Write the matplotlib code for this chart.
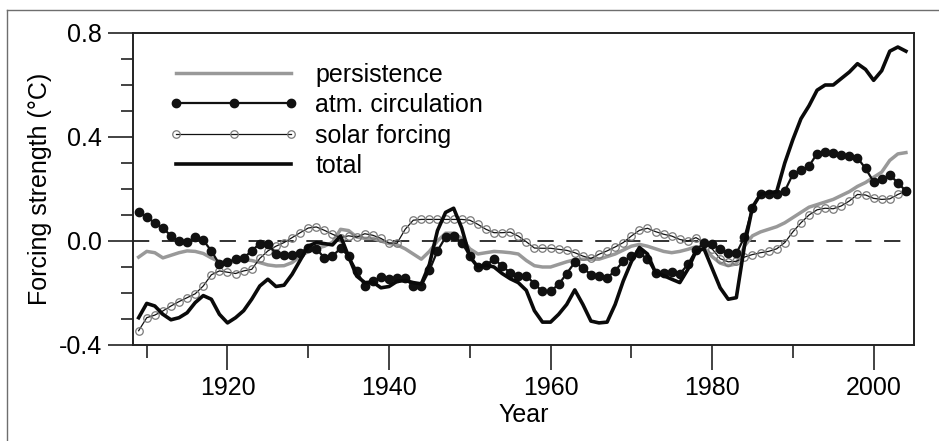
import matplotlib
matplotlib.use("Agg")
import matplotlib.pyplot as plt
from matplotlib.lines import Line2D
from matplotlib.ticker import MultipleLocator, FixedLocator, FuncFormatter
import numpy as np

plt.rcParams['font.family'] = ['Liberation Sans', 'DejaVu Sans']
plt.rcParams['axes.unicode_minus'] = False

years = list(range(1909, 2005))

persistence = [
    -0.062, -0.040, -0.045, -0.065, -0.055, -0.045, -0.038, -0.040, -0.048, -0.065,
    -0.080, -0.083, -0.078, -0.072, -0.075, -0.083, -0.092, -0.096, -0.095, -0.083,
    -0.060, -0.040, -0.028, -0.020, -0.005, 0.045, 0.040, 0.015, 0.010, 0.010,
    0.000, -0.010, -0.015, -0.030, -0.050, -0.070, -0.040, 0.000, 0.030, 0.030,
    0.010, -0.030, -0.050, -0.045, -0.040, -0.042, -0.045, -0.050, -0.075, -0.095,
    -0.100, -0.100, -0.090, -0.080, -0.072, -0.070, -0.070, -0.070, -0.060, -0.050,
    -0.035, -0.020, -0.013, -0.020, -0.030, -0.040, -0.045, -0.040, -0.032, -0.022,
    -0.025, -0.060, -0.085, -0.095, -0.088, -0.020, 0.020, 0.035, 0.045, 0.055,
    0.070, 0.090, 0.110, 0.130, 0.140, 0.150, 0.160, 0.175, 0.190, 0.210,
    0.225, 0.245, 0.265, 0.310, 0.335, 0.340,
]

atm_circulation = [
    0.110, 0.092, 0.070, 0.050, 0.020, 0.000, -0.005, 0.015, 0.003, -0.038,
    -0.090, -0.080, -0.070, -0.065, -0.038, -0.010, -0.010, -0.050, -0.055, -0.055,
    -0.045, -0.025, -0.030, -0.065, -0.058, -0.028, -0.058, -0.115, -0.173, -0.154,
    -0.138, -0.147, -0.141, -0.144, -0.173, -0.173, -0.113, -0.038, 0.015, 0.019,
    -0.006, -0.058, -0.100, -0.094, -0.069, -0.096, -0.122, -0.135, -0.133, -0.165,
    -0.194, -0.193, -0.167, -0.125, -0.082, -0.103, -0.130, -0.133, -0.142, -0.114,
    -0.078, -0.058, -0.045, -0.071, -0.122, -0.122, -0.120, -0.127, -0.090, -0.035,
    -0.008, -0.013, -0.032, -0.048, -0.048, 0.014, 0.128, 0.182, 0.182, 0.182,
    0.192, 0.257, 0.272, 0.288, 0.336, 0.344, 0.340, 0.331, 0.327, 0.320,
    0.279, 0.228, 0.237, 0.254, 0.224, 0.192,
]

solar_forcing = [
    -0.345, -0.295, -0.285, -0.269, -0.250, -0.233, -0.218, -0.203, -0.173, -0.130,
    -0.115, -0.120, -0.125, -0.115, -0.109, -0.067, -0.038, -0.020, -0.006, 0.013,
    0.032, 0.050, 0.054, 0.041, 0.026, 0.013, 0.020, 0.015, 0.028, 0.022,
    0.010, -0.008, -0.008, 0.045, 0.080, 0.083, 0.083, 0.083, 0.083, 0.083,
    0.083, 0.080, 0.064, 0.045, 0.032, 0.032, 0.034, 0.019, -0.003, -0.027,
    -0.028, -0.028, -0.032, -0.036, -0.045, -0.058, -0.067, -0.051, -0.038, -0.023,
    -0.006, 0.019, 0.041, 0.049, 0.036, 0.026, 0.019, 0.006, 0.000, 0.013,
    -0.005, -0.030, -0.068, -0.080, -0.078, -0.062, -0.052, -0.045, -0.040, -0.030,
    -0.006, 0.035, 0.070, 0.100, 0.120, 0.126, 0.124, 0.135, 0.154, 0.179,
    0.177, 0.164, 0.160, 0.162, 0.179, 0.192,
]

total = [
    -0.295, -0.240, -0.250, -0.282, -0.303, -0.295, -0.276, -0.237, -0.210, -0.224,
    -0.282, -0.315, -0.295, -0.268, -0.224, -0.173, -0.147, -0.175, -0.170, -0.128,
    -0.074, -0.020, -0.006, -0.010, -0.015, 0.019, -0.060, -0.135, -0.160, -0.158,
    -0.180, -0.175, -0.155, -0.152, -0.160, -0.165, -0.090, 0.040, 0.110, 0.126,
    0.050, -0.060, -0.100, -0.092, -0.100, -0.125, -0.145, -0.160, -0.190, -0.268,
    -0.312, -0.312, -0.282, -0.244, -0.188, -0.244, -0.308, -0.315, -0.312, -0.244,
    -0.154, -0.080, -0.025, -0.050, -0.122, -0.133, -0.147, -0.160, -0.109, -0.040,
    -0.030, -0.105, -0.180, -0.224, -0.218, -0.020, 0.130, 0.180, 0.185, 0.190,
    0.300, 0.390, 0.470, 0.520, 0.580, 0.600, 0.600, 0.625, 0.650, 0.682,
    0.660, 0.618, 0.655, 0.730, 0.746, 0.730,
]

labels = ["persistence", "atm. circulation", "solar forcing", "total"]
y_ticks = [-0.4, 0.0, 0.4, 0.8]
x_ticks = [1920, 1940, 1960, 1980, 2000]

W, H = 939, 441
fig = plt.figure(figsize=(W / 100, H / 100), dpi=100)
ax = fig.add_axes([133 / W, 1 - 345 / H, (914 - 133) / W, (345 - 33) / H])

ax.axhline(0, color='#222222', lw=1.3, dashes=(9, 7), zorder=1)

l1, = ax.plot(years, persistence, color='#999999', lw=2.5, zorder=2)
l3, = ax.plot(years, solar_forcing, color='#111111', lw=0.9, marker='o', ms=5.4,
              mfc='none', mec='#7a7a7a', mew=0.9, zorder=3)
l2, = ax.plot(years, atm_circulation, color='#111111', lw=1.6, marker='o', ms=6.0,
              mfc='#111111', mec='#111111', zorder=4)
l4, = ax.plot(years, total, color='#0a0a0a', lw=2.6, zorder=5)

ax.set_xlim(1908.3, 2005.0)
ax.set_ylim(-0.4, 0.8)

ax.yaxis.set_major_locator(FixedLocator(y_ticks))
ax.yaxis.set_minor_locator(MultipleLocator(0.1))
ax.yaxis.set_major_formatter(FuncFormatter(lambda v, p: f"{v:.1f}"))
ax.xaxis.set_major_locator(FixedLocator(x_ticks))
ax.xaxis.set_minor_locator(MultipleLocator(10))

ax.tick_params(which='major', length=18, width=1.2, labelsize=18, pad=4.5, color='#222222')
ax.tick_params(which='minor', length=9, width=1.2, color='#222222')
for s in ax.spines.values():
    s.set_linewidth(1.4)
    s.set_color('#222222')

ax.set_xlabel("Year", fontsize=18, labelpad=2)
ax.set_ylabel("Forcing strength (°C)", fontsize=18, labelpad=5)

leg = ax.legend([l1, l2, l3, l4], labels, loc='upper left',
                bbox_to_anchor=(0.046, 0.905), frameon=False, fontsize=18,
                handlelength=5.2, handletextpad=0.66, labelspacing=0.26,
                numpoints=3, borderpad=0, borderaxespad=0)

# outer frame of the figure panel
fig.add_artist(Line2D([7 / W, 1.0], [1 - 10 / H, 1 - 10 / H], transform=fig.transFigure,
                      color='#6e6e6e', lw=1.0))
fig.add_artist(Line2D([7 / W, 7 / W], [0.0, 1 - 10 / H], transform=fig.transFigure,
                      color='#6e6e6e', lw=1.0))

fig.savefig("out.png", dpi=100)
